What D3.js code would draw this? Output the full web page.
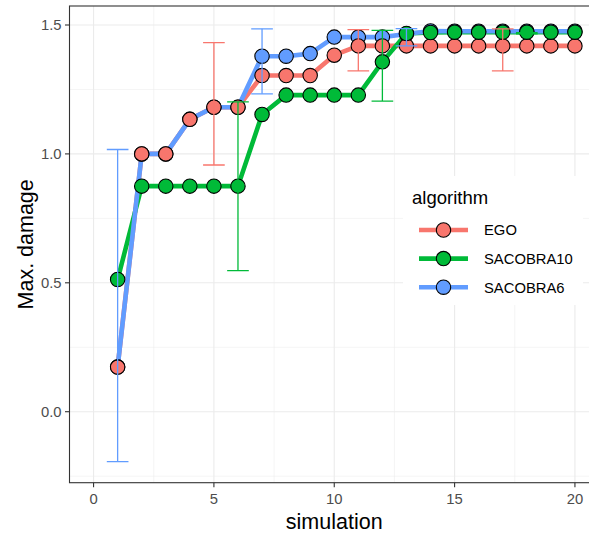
<!DOCTYPE html>
<html>
<head>
<meta charset="utf-8">
<script src="https://cdn.jsdelivr.net/npm/d3@7"></script>
<style>
  body { margin: 0; background: #fff; }
  text { font-family: "Liberation Sans", Arial, sans-serif; }
</style>
</head>
<body>
<div id="chart"></div>
<script>
// values
let simulation = [1, 2, 3, 4, 5, 6, 7, 8, 9, 10, 11, 12, 13, 14, 15, 16, 17, 18, 19, 20];
let algorithms = ["EGO", "SACOBRA10", "SACOBRA6"];
let colors = ["#F8766D", "#00BA38", "#619CFF"];
let ego = [0.173, 1.0, 1.0, 1.134, 1.181, 1.181, 1.304, 1.304, 1.304, 1.383,
    1.419, 1.419, 1.419, 1.419, 1.419, 1.419, 1.419, 1.419, 1.419, 1.419];
let sacobra10 = [0.513, 0.875, 0.875, 0.875, 0.875, 0.875, 1.153, 1.228, 1.228, 1.228,
    1.228, 1.357, 1.467, 1.471, 1.472, 1.472, 1.472, 1.472, 1.472, 1.472];
let sacobra6 = [0.173, 1.0, 1.0, 1.134, 1.181, 1.181, 1.379, 1.379, 1.389, 1.453,
    1.453, 1.453, 1.465, 1.477, 1.476, 1.476, 1.476, 1.476, 1.476, 1.476];
// error bars
let err_sim = [1, 5, 6, 7, 11, 12, 13, 17, 18];
let err_algo = ["SACOBRA6", "EGO", "SACOBRA10", "SACOBRA6", "EGO", "SACOBRA10", "SACOBRA6", "EGO", "SACOBRA10"];
let err_low = [-0.194, 0.957, 0.547, 1.233, 1.322, 1.205, 1.419, 1.322, 1.466];
let err_high = [1.017, 1.432, 1.202, 1.485, 1.482, 1.479, 1.486, 1.485, 1.470];
let x_ticks = [0, 5, 10, 15, 20];
let x_minor = [2.5, 7.5, 12.5, 17.5];
let y_ticks = [0, 0.5, 1.0, 1.5];
let y_minor = [-0.25, 0.25, 0.75, 1.25];

let series_values = [ego, sacobra10, sacobra6];
let svg_width = 589;
let svg_height = 535;
let panel = { left: 69.5, top: 6, right: 599, bottom: 482.7 };

let svg = d3.select("#chart")
    .append("svg")
    .attr("width", svg_width)
    .attr("height", svg_height);

let x_scale = d3.scaleLinear()
    .domain([-1, 21])
    .range([panel.left, panel.right]);
let y_scale = d3.scaleLinear()
    .domain([-0.2754, 1.5737])
    .range([panel.bottom, panel.top]);
let color = d3.scaleOrdinal().domain(algorithms).range(colors);

svg.append("defs").append("clipPath")
    .attr("id", "panel_clip")
    .append("rect")
    .attr("x", panel.left)
    .attr("y", panel.top)
    .attr("width", panel.right - panel.left)
    .attr("height", panel.bottom - panel.top);

let grid = svg.append("g").attr("clip-path", "url(#panel_clip)");
grid.selectAll(".xminor").data(x_minor).enter().append("line")
    .attr("x1", d => x_scale(d)).attr("x2", d => x_scale(d))
    .attr("y1", panel.top).attr("y2", panel.bottom)
    .attr("stroke", "#EBEBEB").attr("stroke-width", 0.55);
grid.selectAll(".yminor").data(y_minor).enter().append("line")
    .attr("y1", d => y_scale(d)).attr("y2", d => y_scale(d))
    .attr("x1", panel.left).attr("x2", panel.right)
    .attr("stroke", "#EBEBEB").attr("stroke-width", 0.55);
grid.selectAll(".xmajor").data(x_ticks).enter().append("line")
    .attr("x1", d => x_scale(d)).attr("x2", d => x_scale(d))
    .attr("y1", panel.top).attr("y2", panel.bottom)
    .attr("stroke", "#EBEBEB").attr("stroke-width", 1.1);
grid.selectAll(".ymajor").data(y_ticks).enter().append("line")
    .attr("y1", d => y_scale(d)).attr("y2", d => y_scale(d))
    .attr("x1", panel.left).attr("x2", panel.right)
    .attr("stroke", "#EBEBEB").attr("stroke-width", 1.1);

let plot = svg.append("g").attr("clip-path", "url(#panel_clip)");

let line = d3.line()
    .x((d, i) => x_scale(simulation[i]))
    .y(d => y_scale(d));

// lines: EGO, SACOBRA10, SACOBRA6 (blue on top)
series_values.forEach(function (vals, k) {
    plot.append("path")
        .datum(vals)
        .attr("d", line)
        .attr("fill", "none")
        .attr("stroke", colors[k])
        .attr("stroke-width", 4.6)
        .attr("stroke-linejoin", "round");
});

// points: blue underneath red and green
[2, 0, 1].forEach(function (k) {
    plot.selectAll(".pt" + k)
        .data(series_values[k])
        .enter()
        .append("circle")
        .attr("cx", (d, i) => x_scale(simulation[i]))
        .attr("cy", d => y_scale(d))
        .attr("r", 7.2)
        .attr("fill", colors[k])
        .attr("stroke", "#000")
        .attr("stroke-width", 1.1);
});

// error bars on top
let half_w = 0.45;
err_sim.forEach(function (s, i) {
    let g = plot.append("g")
        .attr("stroke", color(err_algo[i]))
        .attr("stroke-width", 1.3);
    g.append("line")
        .attr("x1", x_scale(s)).attr("x2", x_scale(s))
        .attr("y1", y_scale(err_low[i])).attr("y2", y_scale(err_high[i]));
    [err_low[i], err_high[i]].forEach(function (v) {
        g.append("line")
            .attr("x1", x_scale(s - half_w)).attr("x2", x_scale(s + half_w))
            .attr("y1", y_scale(v)).attr("y2", y_scale(v));
    });
});

// panel border
svg.append("rect")
    .attr("x", panel.left).attr("y", panel.top)
    .attr("width", panel.right - panel.left)
    .attr("height", panel.bottom - panel.top)
    .attr("fill", "none")
    .attr("stroke", "#333333")
    .attr("stroke-width", 1.1);

// axes
let x_axis = svg.append("g");
x_ticks.forEach(function (t) {
    x_axis.append("line")
        .attr("x1", x_scale(t)).attr("x2", x_scale(t))
        .attr("y1", panel.bottom).attr("y2", panel.bottom + 4.5)
        .attr("stroke", "#333333").attr("stroke-width", 1.1);
    x_axis.append("text")
        .attr("x", x_scale(t))
        .attr("y", panel.bottom + 21.5)
        .attr("text-anchor", "middle")
        .attr("fill", "#4D4D4D")
        .style("font-size", "14.8px")
        .text(t);
});
let y_axis = svg.append("g");
y_ticks.forEach(function (t) {
    y_axis.append("line")
        .attr("x1", panel.left - 4.5).attr("x2", panel.left)
        .attr("y1", y_scale(t)).attr("y2", y_scale(t))
        .attr("stroke", "#333333").attr("stroke-width", 1.1);
    y_axis.append("text")
        .attr("x", panel.left - 8)
        .attr("y", y_scale(t) + 5.2)
        .attr("text-anchor", "end")
        .attr("fill", "#4D4D4D")
        .style("font-size", "14.8px")
        .text(d3.format(".1f")(t));
});

svg.append("text")
    .attr("x", x_scale(10))
    .attr("y", 529)
    .attr("text-anchor", "middle")
    .attr("fill", "#000")
    .style("font-size", "21.5px")
    .text("simulation");
svg.append("text")
    .attr("transform", `translate(33,${(panel.top + panel.bottom) / 2}) rotate(-90)`)
    .attr("text-anchor", "middle")
    .attr("fill", "#000")
    .style("font-size", "21.5px")
    .text("Max. damage");

// legend inside the panel
let legend = svg.append("g");
legend.append("rect")
    .attr("x", 403).attr("y", 176)
    .attr("width", 180).attr("height", 129)
    .attr("fill", "#fff");
legend.append("text")
    .attr("x", 412)
    .attr("y", 204)
    .attr("fill", "#000")
    .style("font-size", "18.5px")
    .text("algorithm");
algorithms.forEach(function (a, i) {
    let ky = 230 + i * 28.6;
    legend.append("line")
        .attr("x1", 419).attr("x2", 468)
        .attr("y1", ky).attr("y2", ky)
        .attr("stroke", color(a))
        .attr("stroke-width", 4.6);
    legend.append("circle")
        .attr("cx", 443.5).attr("cy", ky)
        .attr("r", 7.2)
        .attr("fill", color(a))
        .attr("stroke", "#000")
        .attr("stroke-width", 1.1);
    legend.append("text")
        .attr("x", 484)
        .attr("y", ky + 5.3)
        .attr("fill", "#000")
        .style("font-size", "14.8px")
        .text(a);
});
</script>
</body>
</html>
